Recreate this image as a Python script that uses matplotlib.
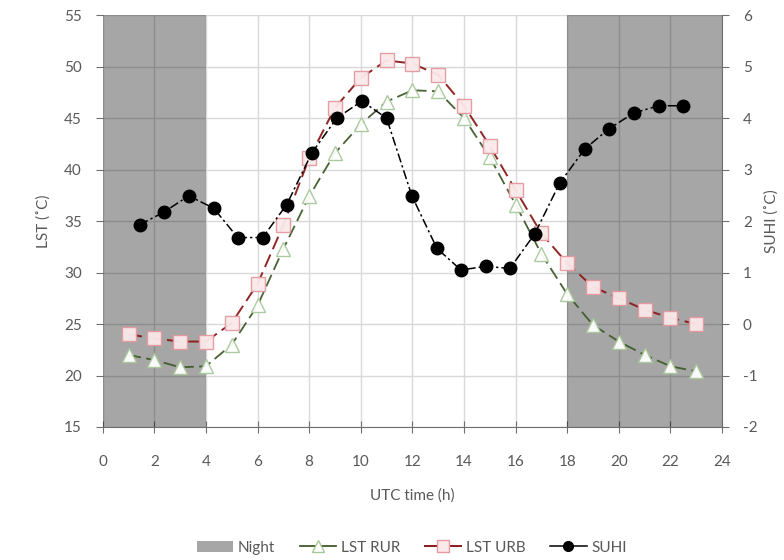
import matplotlib.pyplot as plt
from matplotlib.patches import Patch
from matplotlib.lines import Line2D

plt.rcParams['font.family'] = ['Lato', 'DejaVu Sans']
plt.rcParams['axes.unicode_minus'] = False

# -----------------------------
# Data
# -----------------------------
hours = [1, 2, 3, 4, 5, 6, 7, 8, 9, 10, 11, 12, 13, 14, 15, 16, 17, 18, 19, 20, 21, 22, 23]
lst_rur = [22.0, 21.5, 20.8, 20.9, 23.0, 26.8, 32.3, 37.4, 41.6, 44.4, 46.6, 47.7, 47.6, 45.0,
           41.2, 36.6, 31.8, 27.9, 24.9, 23.3, 22.0, 20.9, 20.4]
lst_urb = [24.0, 23.6, 23.3, 23.3, 25.1, 28.9, 34.6, 41.1, 46.0, 48.9, 50.6, 50.3, 49.2, 46.2,
           42.3, 38.0, 33.8, 30.9, 28.6, 27.5, 26.4, 25.6, 25.0]
suhi_hours = [1.43, 2.36, 3.33, 4.30, 5.23, 6.20, 7.13, 8.10, 9.07, 10.04, 11.0, 11.98, 12.95,
              13.88, 14.84, 15.78, 16.74, 17.71, 18.68, 19.61, 20.58, 21.55, 22.48]
suhi = [1.93, 2.17, 2.49, 2.25, 1.68, 1.68, 2.32, 3.32, 4.0, 4.33, 4.0, 2.49, 1.47, 1.05,
        1.12, 1.08, 1.75, 2.74, 3.40, 3.79, 4.10, 4.24, 4.24]
night = [(0, 4), (18, 24)]

TXT = "#595959"

fig = plt.figure(figsize=(7.84, 5.6), dpi=100)
ax = fig.add_axes([0.131, 0.2375, 0.79, 0.7355])
ax2 = ax.twinx()

# night shading drawn over the grid so grid lines look darker there
for a, b in night:
    ax.axvspan(a, b, color="black", alpha=0.35, lw=0, zorder=1.5)

ax.grid(True, color="#d9d9d9", lw=1.0, zorder=0)
ax.set_axisbelow(True)

ax.plot(hours, lst_rur, color="#3e5a2a", lw=1.3, ls=(0, (7, 3)), zorder=3,
        marker="^", ms=10, mfc="white", mec="#a8c89a", mew=1.0, alpha=0.95)
ax.plot(hours, lst_urb, color="#8b1a1a", lw=1.4, ls=(0, (7, 3)), zorder=3,
        marker="s", ms=10, mfc="#fbe9ea", mec="#e39aa0", mew=1.0, alpha=0.95)
ax2.plot(suhi_hours, suhi, color="black", lw=1.1, ls=(0, (6, 2, 1.5, 2)), zorder=4,
         marker="o", ms=9, mfc="black", mec="black")

ax.set_xlim(0, 24)
ax.set_ylim(15, 55)
ax2.set_ylim(-2, 6)
ax.set_xticks(range(0, 25, 2))
ax.set_yticks(range(15, 56, 5))
ax2.set_yticks(range(-2, 7))

for s in ["top", "left"]:
    ax.spines[s].set_visible(False)
    ax2.spines[s].set_visible(False)
ax.spines["bottom"].set_color("#6f6f6f")
ax2.spines["bottom"].set_visible(False)
ax2.spines["right"].set_color("#6f6f6f")
ax.spines["right"].set_visible(False)

ax.tick_params(axis="x", direction="inout", length=8, color="#6f6f6f", labelsize=11,
               labelcolor=TXT, pad=16)
ax.tick_params(axis="y", direction="out", length=5, color="#6f6f6f", labelsize=11,
               labelcolor=TXT, pad=10)
ax2.tick_params(axis="y", direction="out", length=5, color="#6f6f6f", labelsize=11,
                labelcolor=TXT, pad=10)

ax.set_xlabel("UTC time (h)", fontsize=11, color=TXT, labelpad=14)
ax.set_ylabel("LST (˚C)", fontsize=11, color=TXT, labelpad=10)
ax2.set_ylabel("SUHI (˚C)", fontsize=11, color=TXT, labelpad=5)

handles = [
    Patch(facecolor="#a6a6a6", edgecolor="none"),
    Line2D([], [], color="#3e5a2a", lw=1.3, marker="^", ms=9, mfc="white", mec="#a8c89a"),
    Line2D([], [], color="#8b1a1a", lw=1.4, marker="s", ms=9, mfc="#fbe9ea", mec="#e39aa0"),
    Line2D([], [], color="black", lw=1.1, marker="o", ms=7, mfc="black"),
]
labels = ["Night", "LST RUR", "LST URB", "SUHI"]
fig.legend(handles, labels, loc="center", bbox_to_anchor=(0.525, 0.022), ncol=4,
           frameon=False, fontsize=11, labelcolor=TXT, handlelength=2.4,
           handletextpad=0.3, columnspacing=1.6)

fig.savefig("out.png", dpi=100)
